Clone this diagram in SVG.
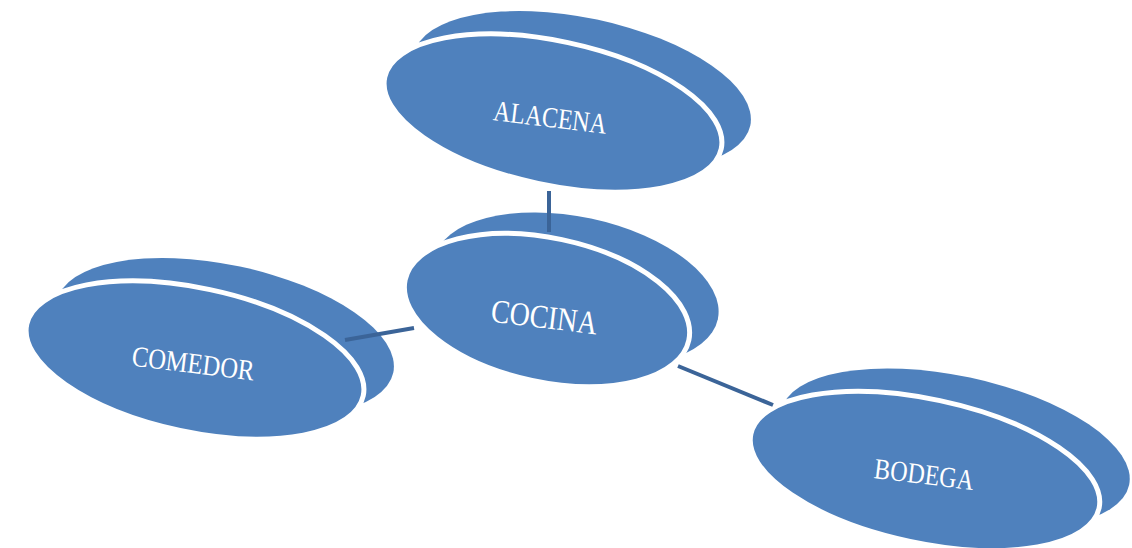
<svg xmlns="http://www.w3.org/2000/svg" width="1132" height="548" viewBox="0 0 1132 548">
<style>
.sh{fill:#4F81BD;}
.fr{fill:#4F81BD;stroke:#FFFFFF;stroke-width:5;}
.lbl{fill:#FFFFFF;font-family:"Liberation Serif","DejaVu Serif",serif;text-anchor:middle;}
.cn{stroke:#3B6498;stroke-width:4;fill:none;}
</style>
<rect width="1132" height="548" fill="#FFFFFF"/>
<g id="alacena">
  <ellipse class="sh" cx="0" cy="0" rx="172" ry="72" transform="translate(582,90) rotate(12)"/>
  <ellipse class="fr" cx="0" cy="0" rx="172" ry="72" transform="translate(553,113) rotate(12)"/>
  <text class="lbl" font-size="29" textLength="114" lengthAdjust="spacingAndGlyphs" transform="translate(549,127) rotate(7)">ALACENA</text>
</g>
<g id="cocina">
  <ellipse class="sh" cx="0" cy="0" rx="145" ry="72" transform="translate(576,289) rotate(12)"/>
  <ellipse class="fr" cx="0" cy="0" rx="145" ry="72" transform="translate(547,310) rotate(12)"/>
  <text class="lbl" font-size="33" textLength="107" lengthAdjust="spacingAndGlyphs" transform="translate(543,328) rotate(7)">COCINA</text>
</g>
<g id="comedor">
  <ellipse class="sh" cx="0" cy="0" rx="172" ry="72" transform="translate(225,337) rotate(12)"/>
  <ellipse class="fr" cx="0" cy="0" rx="172" ry="72" transform="translate(195,360) rotate(12)"/>
  <text class="lbl" font-size="29" textLength="123" lengthAdjust="spacingAndGlyphs" transform="translate(192,373) rotate(7)">COMEDOR</text>
</g>
<g id="bodega">
  <ellipse class="sh" cx="0" cy="0" rx="178" ry="72" transform="translate(955,448) rotate(12)"/>
  <ellipse class="fr" cx="0" cy="0" rx="178" ry="72" transform="translate(925,471) rotate(12)"/>
  <text class="lbl" font-size="29" textLength="100" lengthAdjust="spacingAndGlyphs" transform="translate(923,484) rotate(7)">BODEGA</text>
</g>
<g id="connectors">
  <line class="cn" x1="549" y1="191" x2="549" y2="232"/>
  <line class="cn" x1="345" y1="340" x2="414" y2="328"/>
  <line class="cn" x1="678" y1="366" x2="773" y2="405"/>
</g>
</svg>
